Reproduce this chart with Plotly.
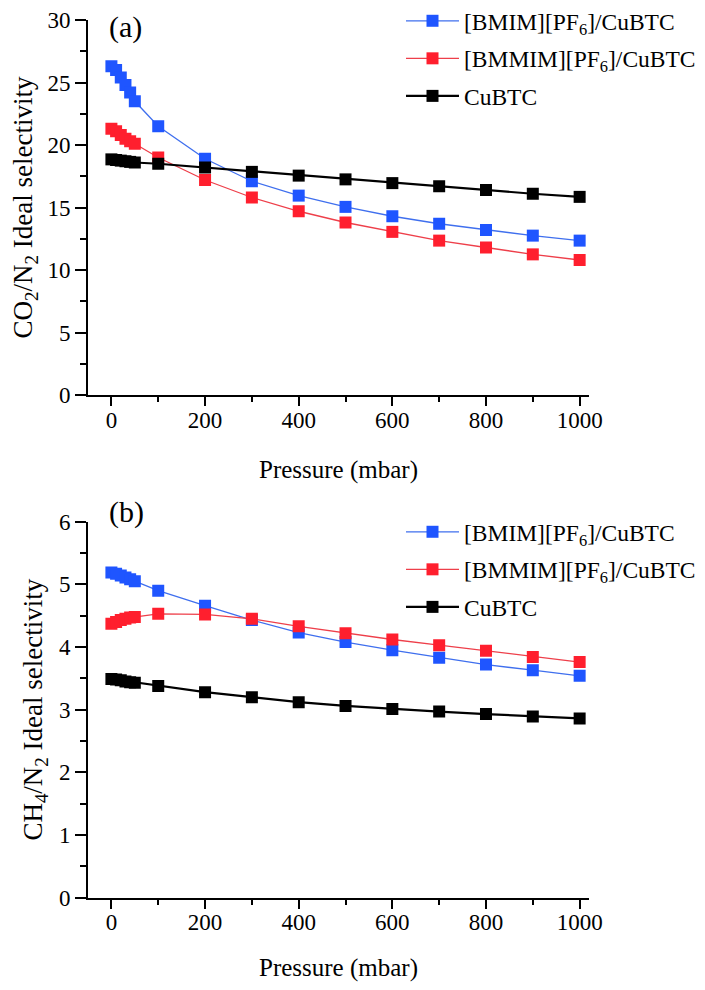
import plotly.graph_objects as go

# Data
pressure = [0, 10, 20, 30, 40, 50, 100, 200, 300, 400, 500, 600, 700, 800, 900, 1000]

co2_bmim = [26.3, 26.0, 25.4, 24.8, 24.2, 23.5, 21.5, 18.9, 17.1, 15.95, 15.05, 14.3, 13.7, 13.2, 12.75, 12.35]
co2_bmmim = [21.3, 21.1, 20.8, 20.5, 20.3, 20.1, 19.0, 17.2, 15.8, 14.7, 13.8, 13.05, 12.35, 11.8, 11.25, 10.8]
co2_cubtc = [18.85, 18.8, 18.75, 18.7, 18.65, 18.6, 18.5, 18.2, 17.85, 17.55, 17.25, 16.95, 16.7, 16.4, 16.1, 15.85]

ch4_bmim = [5.19, 5.17, 5.14, 5.11, 5.08, 5.05, 4.9, 4.66, 4.43, 4.23, 4.08, 3.95, 3.83, 3.72, 3.63, 3.54]
ch4_bmmim = [4.37, 4.40, 4.43, 4.45, 4.47, 4.48, 4.53, 4.52, 4.45, 4.33, 4.22, 4.12, 4.03, 3.94, 3.84, 3.76]
ch4_cubtc = [3.49, 3.48, 3.47, 3.45, 3.44, 3.43, 3.38, 3.28, 3.2, 3.12, 3.06, 3.01, 2.97, 2.93, 2.89, 2.86]

series_names = ["[BMIM][PF<sub>6</sub>]/CuBTC", "[BMMIM][PF<sub>6</sub>]/CuBTC", "CuBTC"]
panel_labels = ["(a)", "(b)"]
y_titles = ["CO<sub>2</sub>/N<sub>2</sub> Ideal selectivity", "CH<sub>4</sub>/N<sub>2</sub> Ideal selectivity"]
x_title = "Pressure (mbar)"

marker_colors = ["#1f55ff", "#ff1f2e", "#000000"]
line_colors = ["#3f6fee", "#ee3f4a", "#000000"]
line_widths = [1.3, 1.3, 2.2]

FONT = "Liberation Serif"
# page body has an 8px margin, so the figure is drawn 16px smaller
OFF = 8
W, H = 705 - 2 * OFF, 990 - 2 * OFF


def fx(px):
    return (px - OFF) / W


def fy(py):
    return 1 - (py - OFF) / H


fig = go.Figure()

panels = [
    (co2_bmim, co2_bmmim, co2_cubtc),
    (ch4_bmim, ch4_bmmim, ch4_cubtc),
]
for p, data in enumerate(panels):
    xa = "x" if p == 0 else "x2"
    ya = "y" if p == 0 else "y2"
    lg = "legend" if p == 0 else "legend2"
    for i, vals in enumerate(data):
        fig.add_trace(go.Scatter(
            x=pressure, y=vals, name=series_names[i], mode="lines+markers",
            xaxis=xa, yaxis=ya, legend=lg, legendgroup=f"p{p}s{i}",
            line=dict(color=line_colors[i], width=line_widths[i]),
            marker=dict(symbol="square", size=12, color=marker_colors[i],
                        line=dict(width=0)),
        ))

x_dom = [fx(88), fx(589)]
ya_dom = [fy(395), fy(20)]
yb_dom = [fy(897.7), fy(521.7)]


def xaxis(anchor, standoff):
    return dict(
        domain=x_dom, anchor=anchor, range=[-50, 1020],
        showgrid=False, zeroline=False, showline=True, linecolor="black", linewidth=2,
        ticks="outside", ticklen=9, tickwidth=2, tickcolor="black",
        tickvals=[0, 200, 400, 600, 800, 1000], ticklabelstandoff=-6,
        minor=dict(tickvals=[100, 300, 500, 700, 900], ticks="outside", ticklen=5,
                   tickwidth=2, tickcolor="black", showgrid=False),
        tickfont=dict(family=FONT, size=23, color="black"),
        title=dict(text=x_title, font=dict(family=FONT, size=25, color="black"), standoff=standoff),
        automargin=False,
    )


def yaxis(anchor, dom, rng, major, minor_vals, title):
    return dict(
        domain=dom, anchor=anchor, range=rng,
        showgrid=False, zeroline=False, showline=True, linecolor="black", linewidth=2,
        ticks="outside", ticklen=11, tickwidth=2, tickcolor="black",
        tickvals=major,
        minor=dict(tickvals=minor_vals, ticks="outside", ticklen=6,
                   tickwidth=2, tickcolor="black", showgrid=False),
        tickfont=dict(family=FONT, size=23, color="black"),
        title=dict(text=title, font=dict(family=FONT, size=27, color="black"), standoff=8),
        automargin=False,
    )


legend_common = dict(
    xanchor="left", yanchor="top", bgcolor="rgba(0,0,0,0)", borderwidth=0,
    font=dict(family=FONT, size=23.5, color="black"), tracegroupgap=4, itemwidth=53,
)

fig.update_layout(
    width=W, height=H,
    margin=dict(l=0, r=0, t=0, b=0, autoexpand=False),
    paper_bgcolor="white", plot_bgcolor="white",
    showlegend=True,
    xaxis=xaxis("y", 29),
    yaxis=yaxis("x", ya_dom, [0, 30], [0, 5, 10, 15, 20, 25, 30],
                [2.5, 7.5, 12.5, 17.5, 22.5, 27.5], y_titles[0]),
    xaxis2=xaxis("y2", 24),
    yaxis2=yaxis("x2", yb_dom, [0, 6], [0, 1, 2, 3, 4, 5, 6],
                 [0.5, 1.5, 2.5, 3.5, 4.5, 5.5], y_titles[1]),
    legend=dict(x=fx(401), y=fy(-1), **legend_common),
    legend2=dict(x=fx(401), y=fy(510), **legend_common),
    annotations=[
        dict(text=panel_labels[0], x=fx(107), y=1.0, xref="paper", yref="paper",
             xanchor="left", yanchor="top", showarrow=False,
             font=dict(family=FONT, size=30, color="black")),
        dict(text=panel_labels[1], x=fx(107), y=fy(512), xref="paper", yref="paper",
             xanchor="left", yanchor="middle", showarrow=False,
             font=dict(family=FONT, size=30, color="black")),
    ],
)

fig.write_html("out.html")
